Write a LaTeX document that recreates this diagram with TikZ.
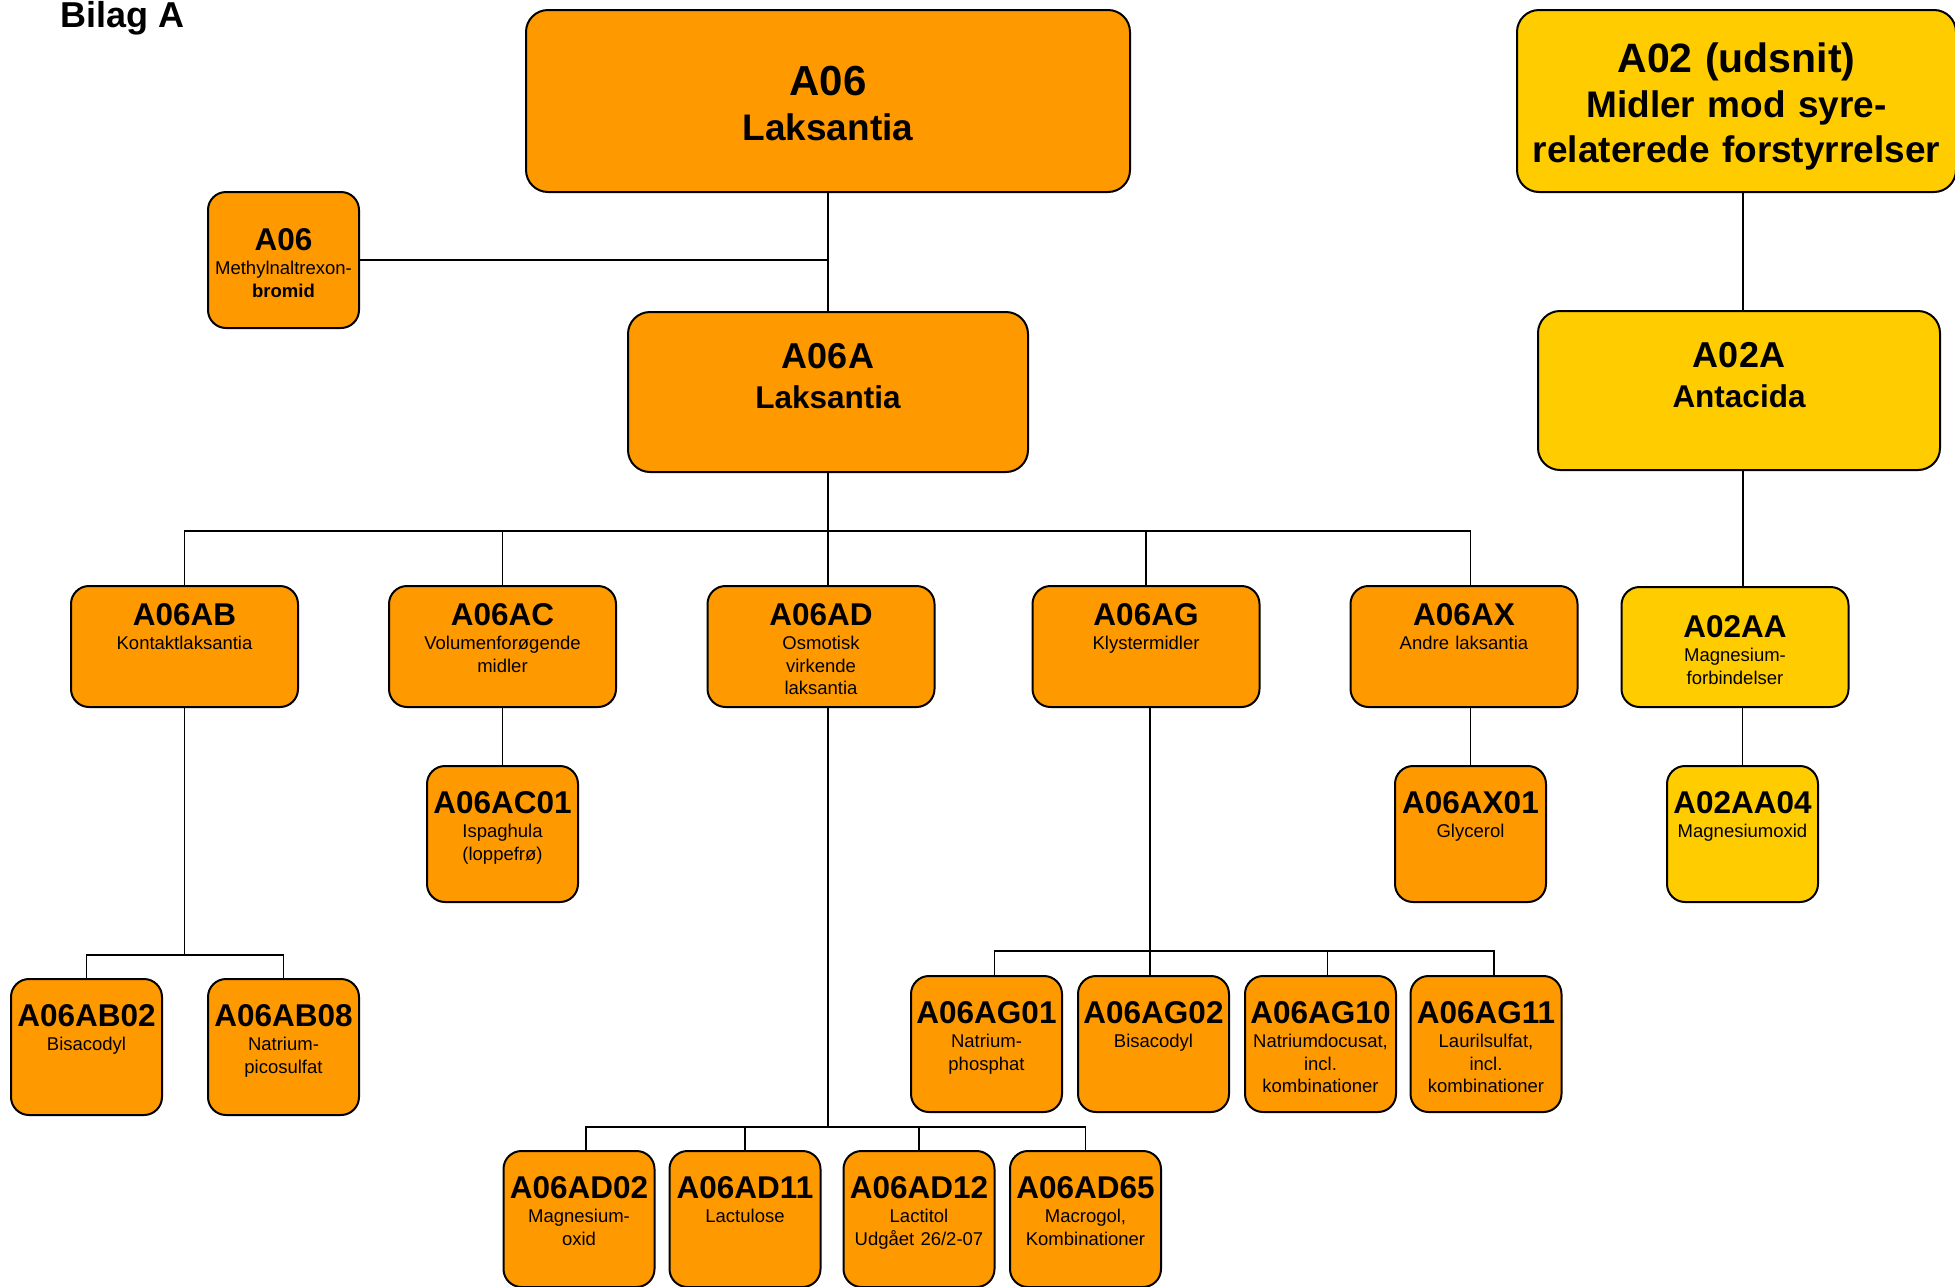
\documentclass[tikz,border=0pt]{standalone}
\usepackage{fontspec}
\setmainfont{Liberation Sans}
\definecolor{laxorange}{RGB}{255,153,0}
\definecolor{acidyellow}{RGB}{255,204,0}
\newcommand{\atc}[1]{{\fontsize{31.5}{36}\selectfont\bfseries #1}}
\tikzset
{
	atcbox/.style    = {draw=black, line width=2pt, rounded corners=18pt, fill=laxorange, inner sep=0pt, align=center, font=\fontsize{18.5}{22.3}\selectfont},
	antacid/.style   = {fill=acidyellow},
	mainnode/.style  = {atcbox, rounded corners=22pt, font=\fontsize{37}{45}\selectfont\bfseries},
	subnode/.style   = {atcbox, rounded corners=22pt, text width=400pt, text height=56pt, text depth=104pt, font=\fontsize{31.5}{40}\selectfont\bfseries},
	groupnode/.style = {atcbox, text width=227pt, text height=39pt, text depth=82pt},
	drugnode/.style  = {atcbox, text width=151pt, text height=47pt, text depth=89pt},
	branch/.style    = {line width=1.6pt}
}

\begin{document}
\begin{tikzpicture}[x=1pt, y=-1pt]
\useasboundingbox (0,0) rectangle (1955,1286);
\node[anchor=base west, inner sep=0pt, font=\fontsize{36}{40}\selectfont\bfseries] (bilag) at (60,27) {Bilag A};

% top level
\node[mainnode, text width=604pt, text height=85pt, text depth=97pt] (a06) at (828,101) {{\fontsize{42}{46}\selectfont A06}\\Laksantia};
\node[mainnode, antacid, text width=439pt, text height=62pt, text depth=120pt] (a02) at (1736.5,101) {{\fontsize{41}{46}\selectfont A02 (udsnit)}\\Midler mod syre-\\relaterede forstyrrelser};
\node[drugnode, text height=58pt, text depth=78pt] (a06mnb) at (283.5,260) {\atc{A06}\\[2.5pt]Methylnaltrexon-\\\textbf{bromid}};
\node[subnode] (a06a) at (828,392) {{\fontsize{36}{40}\selectfont A06A}\\Laksantia};
\node[subnode, antacid, text width=402pt, text height=56pt, text depth=103pt] (a02a) at (1739,390.5) {{\fontsize{36}{40}\selectfont A02A}\\Antacida};

% groups
\node[groupnode] (a06ab) at (184.5,646.5) {\atc{A06AB}\\[2.5pt]Kontaktlaksantia};
\node[groupnode] (a06ac) at (502.5,646.5) {\atc{A06AC}\\[2.5pt]Volumenforøgende\\midler};
\node[groupnode] (a06ad) at (821,646.5) {\atc{A06AD}\\[2.5pt]Osmotisk\\virkende\\laksantia};
\node[groupnode] (a06ag) at (1146,646.5) {\atc{A06AG}\\[2.5pt]Klystermidler};
\node[groupnode] (a06ax) at (1464,646.5) {\atc{A06AX}\\[2.5pt]Andre laksantia};
\node[groupnode, antacid, text height=50pt, text depth=70pt] (a02aa) at (1735,647) {\atc{A02AA}\\[2.5pt]Magnesium-\\forbindelser};

% substances
\node[drugnode] (a06ac01) at (502.5,834) {\atc{A06AC01}\\[2.5pt]Ispaghula\\(loppefrø)};
\node[drugnode] (a06ax01) at (1470.5,834) {\atc{A06AX01}\\[2.5pt]Glycerol};
\node[drugnode, antacid] (a02aa04) at (1742.5,834) {\atc{A02AA04}\\[2.5pt]Magnesiumoxid};
\node[drugnode] (a06ab02) at (86.5,1047) {\atc{A06AB02}\\[2.5pt]Bisacodyl};
\node[drugnode] (a06ab08) at (283.5,1047) {\atc{A06AB08}\\[2.5pt]Natrium-\\picosulfat};
\node[drugnode] (a06ag01) at (986.5,1044) {\atc{A06AG01}\\[2.5pt]Natrium-\\phosphat};
\node[drugnode] (a06ag02) at (1153.5,1044) {\atc{A06AG02}\\[2.5pt]Bisacodyl};
\node[drugnode] (a06ag10) at (1320.5,1044) {\atc{A06AG10}\\[2.5pt]Natriumdocusat,\\incl.\\kombinationer};
\node[drugnode] (a06ag11) at (1486,1044) {\atc{A06AG11}\\[2.5pt]Laurilsulfat,\\incl.\\kombinationer};
\node[drugnode] (a06ad02) at (579,1219) {\atc{A06AD02}\\[2.5pt]Magnesium-\\oxid};
\node[drugnode] (a06ad11) at (745,1219) {\atc{A06AD11}\\[2.5pt]Lactulose};
\node[drugnode] (a06ad12) at (919,1219) {\atc{A06AD12}\\[2.5pt]Lactitol\\Udgået 26/2-07};
\node[drugnode] (a06ad65) at (1085.5,1219) {\atc{A06AD65}\\[2.5pt]Macrogol,\\Kombinationer};

% connectors
\draw[branch] (a06.south) -- (a06a.north);
\draw[branch] (a06mnb.east) -- (a06mnb.east -| a06.south);
\draw[branch] (a06a.south) -- (a06a.south |- a06ad.north);
\draw[branch] (a06ab.north) -- ++(0,-54) -| (a06ax01.north |- a06ax.north);
\foreach \g in {a06ac,a06ag}
	\draw[branch] (\g.north) -- ++(0,-54);
\draw[branch] (a06ac.south) -- (a06ac01.north);
\draw[branch] (a06ax01.north |- a06ax.south) -- (a06ax01.north);
\draw[branch] (a06ab.south) -- ([yshift=23pt]a06ab.south |- a06ab02.north);
\draw[branch] (a06ab02.north) -- ++(0,-23) -| (a06ab08.north);
\draw[branch] (a06ad.south -| a06a.south) -- ([yshift=23pt]a06a.south |- a06ad11.north);
\draw[branch] ([xshift=7pt]a06ad02.north) -- ++(0,-23) -| (a06ad65.north);
\foreach \d in {a06ad11,a06ad12}
	\draw[branch] (\d.north) -- ++(0,-23);
\draw[branch] ([xshift=4pt]a06ag.south) -- ([xshift=4pt]a06ag.south |- a06ag02.north);
\draw[branch] ([xshift=8pt]a06ag01.north) -- ++(0,-24) -| ([xshift=8pt]a06ag11.north);
\draw[branch] ([xshift=7pt]a06ag10.north) -- ++(0,-24);
\draw[branch] ([xshift=4pt]a02a.north |- a02.south) -- ([xshift=4pt]a02a.north);
\draw[branch] ([xshift=4pt]a02a.south) -- ([xshift=4pt]a02a.south |- a02aa.north);
\draw[branch] (a02aa04.north |- a02aa.south) -- (a02aa04.north);
\end{tikzpicture}
\end{document}
